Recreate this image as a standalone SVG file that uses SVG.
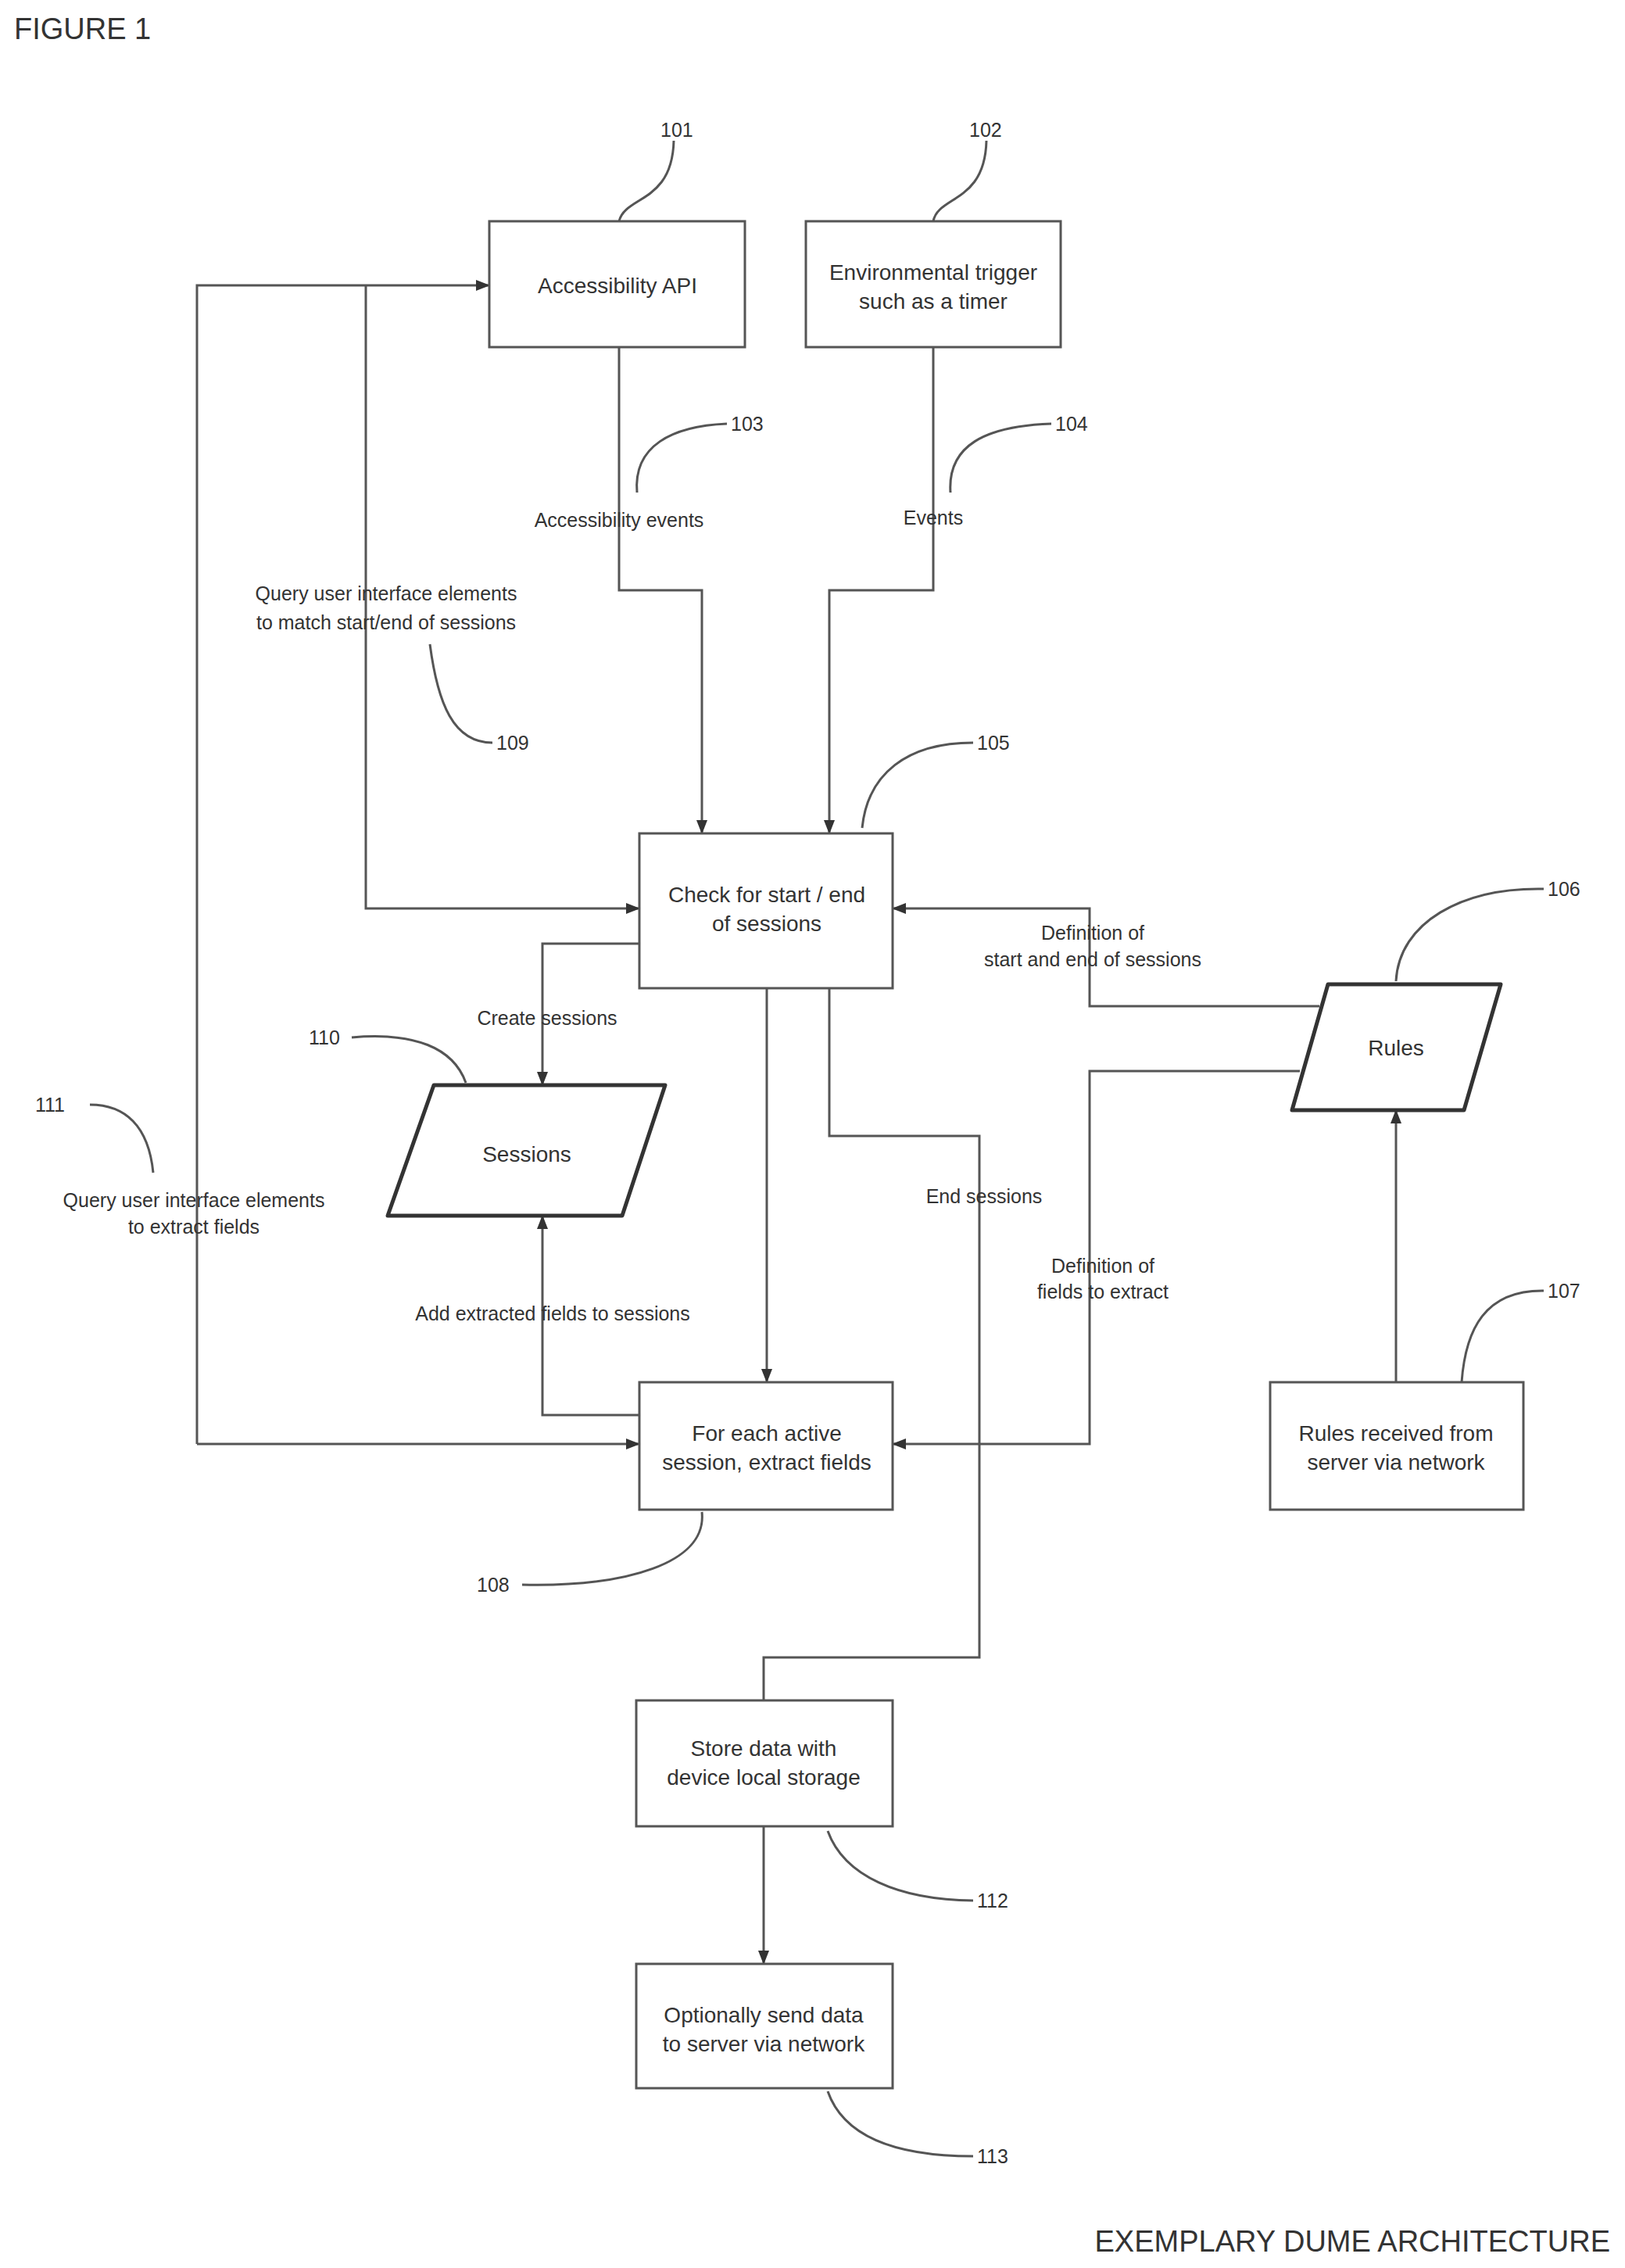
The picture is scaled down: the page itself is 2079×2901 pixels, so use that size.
<svg xmlns="http://www.w3.org/2000/svg" width="2079" height="2901" viewBox="0 0 2079 2901">
<style>
text{font-family:"Liberation Sans",Arial,sans-serif;fill:#333}
.b{fill:#fff;stroke:#555;stroke-width:3}
.p{fill:#fff;stroke:#333;stroke-width:5;stroke-linejoin:round}
.t{font-size:28px;text-anchor:middle}
.l{font-size:25px;text-anchor:middle}
.n{font-size:25px}
.c{fill:none;stroke:#555;stroke-width:3}
.ld{fill:none;stroke:#555;stroke-width:3}
</style>
<defs><marker id="a" markerWidth="10" markerHeight="10" refX="9" refY="5" orient="auto" markerUnits="userSpaceOnUse"><path d="M0,0 L10,5 L0,10 z" fill="#333"/></marker>
<marker id="A" markerWidth="18" markerHeight="14" refX="17" refY="7" orient="auto" markerUnits="userSpaceOnUse"><path d="M0,0 L18,7 L0,14 z" fill="#333"/></marker></defs>
<rect width="2079" height="2901" fill="#fff"/>
<text x="18" y="50" style="font-size:38px">FIGURE 1</text>
<text x="2060" y="2880" style="font-size:38px;text-anchor:end">EXEMPLARY DUME ARCHITECTURE</text>
<g id="connectors">
<path class="c" marker-end="url(#A)" d="M792,444 V755 H898 V1066"/>
<path class="c" marker-end="url(#A)" d="M1194,444 V755 H1061 V1066"/>
<path class="c" marker-end="url(#A)" d="M252,1847 V365 H626"/>
<path class="c" marker-end="url(#A)" d="M252,1847 H818"/>
<path class="c" marker-end="url(#A)" d="M468,365 V1162 H818"/>
<path class="c" marker-end="url(#A)" d="M818,1207 H694 V1388"/>
<path class="c" marker-end="url(#A)" d="M818,1810 H694 V1555"/>
<path class="c" marker-end="url(#A)" d="M981,1264 V1768"/>
<path class="c" d="M1061,1264 V1453 H1253 V2120 H977 V2175"/>
<path class="c" marker-end="url(#A)" d="M977,2336 V2512"/>
<path class="c" marker-end="url(#A)" d="M1688,1287 H1394 V1162 H1142"/>
<path class="c" marker-end="url(#A)" d="M1663,1370 H1394 V1847 H1142"/>
<path class="c" marker-end="url(#A)" d="M1786,1768 V1420"/>
</g>
<g id="labels">
<text class="l" x="792" y="674">Accessibility events</text>
<text class="l" x="1194" y="671">Events</text>
<text class="l" x="494" y="768">Query user interface elements</text>
<text class="l" x="494" y="805">to match start/end of sessions</text>
<text class="l" x="1398" y="1202">Definition of</text>
<text class="l" x="1398" y="1236">start and end of sessions</text>
<text class="l" x="700" y="1311">Create sessions</text>
<text class="l" x="1259" y="1539">End sessions</text>
<text class="l" x="248" y="1544">Query user interface elements</text>
<text class="l" x="248" y="1578">to extract fields</text>
<text class="l" x="1411" y="1628">Definition of</text>
<text class="l" x="1411" y="1661">fields to extract</text>
<text class="l" x="707" y="1689">Add extracted fields to sessions</text>
</g>
<g id="n101"><rect class="b" x="626" y="283" width="327" height="161"/><text class="t" x="790" y="375">Accessibility API</text></g>
<g id="n102"><rect class="b" x="1031" y="283" width="326" height="161"/><text class="t" x="1194" y="358">Environmental trigger</text><text class="t" x="1194" y="395">such as a timer</text></g>
<g id="n105"><rect class="b" x="818" y="1066" width="324" height="198"/><text class="t" x="981" y="1154">Check for start / end</text><text class="t" x="981" y="1191">of sessions</text></g>
<g id="n106"><path class="p" d="M1699,1259 L1920,1259 L1873,1420 L1653,1420 Z"/><text class="t" x="1786" y="1350">Rules</text></g>
<g id="n110"><path class="p" d="M555,1388 L851,1388 L796,1555 L496,1555 Z"/><text class="t" x="674" y="1486">Sessions</text></g>
<g id="n108"><rect class="b" x="818" y="1768" width="324" height="163"/><text class="t" x="981" y="1843">For each active</text><text class="t" x="981" y="1880">session, extract fields</text></g>
<g id="n107"><rect class="b" x="1625" y="1768" width="324" height="163"/><text class="t" x="1786" y="1843">Rules received from</text><text class="t" x="1786" y="1880">server via network</text></g>
<g id="n112"><rect class="b" x="814" y="2175" width="328" height="161"/><text class="t" x="977" y="2246">Store data with</text><text class="t" x="977" y="2283">device local storage</text></g>
<g id="n113"><rect class="b" x="814" y="2512" width="328" height="159"/><text class="t" x="977" y="2587">Optionally send data</text><text class="t" x="977" y="2624">to server via network</text></g>
<g id="refs">
<path class="ld" d="M792,283 C800,250 860,260 862,180"/><text class="n" x="845" y="175">101</text>
<path class="ld" d="M1194,283 C1200,250 1260,260 1262,180"/><text class="n" x="1240" y="175">102</text>
<path class="ld" d="M815,630 C810,570 860,545 930,542"/><text class="n" x="935" y="551">103</text>
<path class="ld" d="M1216,630 C1212,570 1260,545 1345,542"/><text class="n" x="1350" y="551">104</text>
<path class="ld" d="M550,824 C560,900 580,950 630,950"/><text class="n" x="635" y="959">109</text>
<path class="ld" d="M1103,1059 C1110,990 1160,950 1245,950"/><text class="n" x="1250" y="959">105</text>
<path class="ld" d="M1786,1255 C1790,1180 1870,1135 1975,1137"/><text class="n" x="1980" y="1146">106</text>
<path class="ld" d="M450,1327 C530,1320 580,1340 596,1385"/><text class="n" x="395" y="1336">110</text>
<path class="ld" d="M115,1413 C160,1413 190,1440 196,1500"/><text class="n" x="45" y="1422">111</text>
<path class="ld" d="M1870,1768 C1875,1700 1900,1650 1975,1651"/><text class="n" x="1980" y="1660">107</text>
<path class="ld" d="M898,1934 C905,2000 800,2030 668,2027"/><text class="n" x="610" y="2036">108</text>
<path class="ld" d="M1059,2342 C1080,2400 1150,2430 1245,2431"/><text class="n" x="1250" y="2440">112</text>
<path class="ld" d="M1059,2675 C1080,2735 1150,2758 1245,2758"/><text class="n" x="1250" y="2767">113</text>
</g>
</svg>
